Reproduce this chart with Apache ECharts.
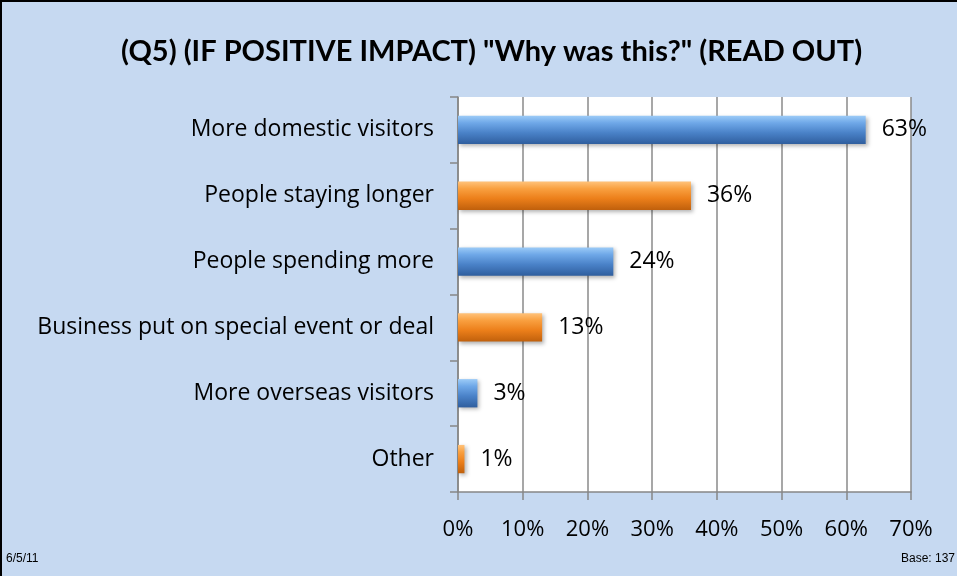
<!DOCTYPE html>
<html><head><meta charset="utf-8">
<script src="https://cdn.jsdelivr.net/npm/echarts@6/dist/echarts.min.js"></script>
<style>html,body{margin:0;padding:0;background:#C6D9F1}#c{width:957px;height:576px}</style>
</head><body><div id="c"></div>
<script>
const categories = ["More domestic visitors","People staying longer","People spending more","Business put on special event or deal","More overseas visitors","Other"];
const values = [63, 36, 24, 13, 3, 1];
const xTicks = [0,10,20,30,40,50,60,70];
const title = '(Q5) (IF POSITIVE IMPACT) "Why was this?" (READ OUT)';

const blue = new echarts.graphic.LinearGradient(0,0,0,1,[
  {offset:0,color:'#9CCBF7'},{offset:0.25,color:'#6FA8E8'},{offset:0.6,color:'#4A82C8'},{offset:1,color:'#2F5E9E'}]);
const orange = new echarts.graphic.LinearGradient(0,0,0,1,[
  {offset:0,color:'#FFC27A'},{offset:0.25,color:'#F9A040'},{offset:0.6,color:'#EC7F1A'},{offset:1,color:'#C0600C'}]);

const chart = echarts.init(document.getElementById('c'));
chart.setOption({
  backgroundColor:'#C6D9F1',
  animation:false,
  title:{text:title,left:116,top:32,textStyle:{fontFamily:'Lato',fontWeight:'bold',fontSize:29,color:'#000'}},
  grid:{left:458,right:46,top:97,bottom:84,containLabel:false,backgroundColor:'#fff',show:true,borderWidth:0},
  xAxis:{type:'value',min:0,max:70,interval:10,
    axisLine:{show:true,lineStyle:{color:'#868686',width:1.5}},
    axisTick:{show:true,length:8,lineStyle:{color:'#868686',width:1.5}},
    splitLine:{show:true,lineStyle:{color:'#8a8a8a',width:1.5}},
    axisLabel:{formatter:v=>v+'%',fontFamily:'Open Sans',fontSize:22,color:'#000',margin:27}},
  yAxis:{type:'category',data:categories,inverse:true,
    axisLine:{show:true,lineStyle:{color:'#868686',width:1.5}},
    axisTick:{show:true,length:8,inside:false,lineStyle:{color:'#868686',width:1.5}},
    axisLabel:{fontFamily:'Open Sans',fontSize:23,color:'#000',margin:24}},
  series:[{type:'bar',barWidth:'43%',
    data:values.map((v,i)=>({value:v,itemStyle:{color:i%2===0?blue:orange}})),
    itemStyle:{shadowBlur:4,shadowColor:'rgba(0,0,0,0.3)',shadowOffsetX:2,shadowOffsetY:2},
    label:{show:true,position:'right',distance:16,formatter:p=>p.value+'%',fontFamily:'Open Sans',fontSize:23,color:'#000'}}],
  graphic:[
    {type:'rect',shape:{x:1,y:1,width:1000,height:1000},style:{fill:null,stroke:'#000',lineWidth:2},silent:true},
    {type:'text',left:6,top:553,style:{text:'6/5/11',font:'12px Arial',fill:'#000'}},
    {type:'text',right:2,top:553,style:{text:'Base: 137',font:'12px Arial',fill:'#000'}}
  ]
});
</script></body></html>
